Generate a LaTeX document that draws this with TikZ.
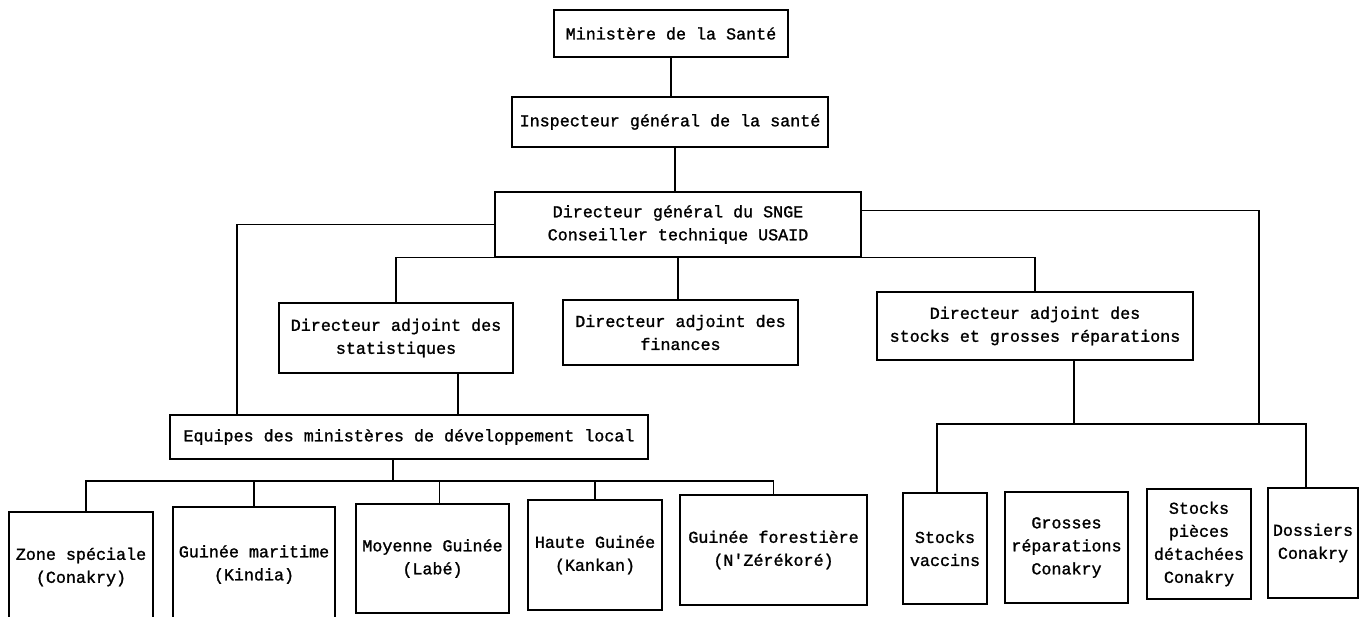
\documentclass[tikz,border=0pt]{standalone}
\usepackage{fontspec}
\newfontfamily\tw[AutoFakeBold=1.3]{Liberation Mono}
\begin{document}
\begin{tikzpicture}[x=1pt,y=-1pt,
  box/.style={draw,line width=1.5pt,inner sep=0pt,align=center,
    font=\tw\bfseries\fontsize{16.7}{23}\selectfont},
  conn/.style={line width=1.5pt}]
\useasboundingbox (0,0) rectangle (1365,617);
\clip (0,0) rectangle (1365,617);
% top levels
\node[box,minimum width=234pt,minimum height=47pt] (min) at (671,33.5) {Ministère de la Santé};
\node[box,minimum width=316pt,minimum height=50pt] (insp) at (670,122) {Inspecteur général de la santé};
\node[box,minimum width=366pt,minimum height=65pt] (dg) at (678,224.5) {Directeur général du SNGE\\Conseiller technique USAID};
\node[box,minimum width=234pt,minimum height=70pt] (stat) at (396,338) {Directeur adjoint des\\statistiques};
\node[box,minimum width=235pt,minimum height=65pt] (fin) at (680.5,332.5) {Directeur adjoint des\\finances};
\node[box,minimum width=316pt,minimum height=68pt] (stk) at (1035,326) {Directeur adjoint des\\stocks et grosses réparations};
\node[box,minimum width=478pt,minimum height=44pt] (eq) at (409,437) {Equipes des ministères de développement local};
% regions
\node[box,minimum width=144pt,minimum height=110pt] (zone) at (81,567) {Zone spéciale\\(Conakry)};
\node[box,minimum width=162pt,minimum height=115pt] (mar) at (254,564.5) {Guinée maritime\\(Kindia)};
\node[box,minimum width=153pt,minimum height=109pt] (moy) at (432.5,558.5) {Moyenne Guinée\\(Labé)};
\node[box,minimum width=134pt,minimum height=110pt] (hau) at (595,555) {Haute Guinée\\(Kankan)};
\node[box,minimum width=187pt,minimum height=110pt] (for) at (773.5,550) {Guinée forestière\\(N'Zérékoré)};
% stocks
\node[box,minimum width=84pt,minimum height=111pt] (vac) at (945,548.5) {Stocks\\vaccins};
\node[box,minimum width=123pt,minimum height=111pt] (gro) at (1066.5,547.5) {Grosses\\réparations\\Conakry};
\node[box,minimum width=104pt,minimum height=110pt] (pie) at (1199,544) {Stocks\\pièces\\détachées\\Conakry};
\node[box,minimum width=90pt,minimum height=110pt] (dos) at (1313,543) {Dossiers\\Conakry};
% coordinates
\coordinate (lbar) at (393,481);
\coordinate (barL) at (937,424);
\coordinate (barR) at (1306,424);
\coordinate (rk) at (1259,424);
\coordinate (eqk) at (237,415);
% connectors
\draw[conn] (min.south) -- (min.south |- insp.north);
\draw[conn] ([xshift=5pt]insp.south) -- ([xshift=5pt]insp.south |- dg.north);
\draw[conn] (dg.south) -- (dg.south |- fin.north);
\draw[conn] (stat.north) |- (dg.south) -| (stk.north);
\draw[conn] (dg.west) -| (eqk);
\draw[conn] ([yshift=14pt]dg.east) -| (rk);
\draw[conn] ([xshift=62pt]stat.south) -- ([xshift=62pt]stat.south |- eq.north);
\draw[conn] ([xshift=-16pt]eq.south) -- (lbar);
\draw[conn] ([xshift=5pt]zone.north) |- (for.north |- lbar) -- (for.north);
\draw[conn] (mar.north) -- (mar.north |- lbar);
\draw[conn] ([xshift=7pt]moy.north) -- ([xshift=7pt]moy.north |- lbar);
\draw[conn] (hau.north) -- (hau.north |- lbar);
\draw[conn] ([xshift=39pt]stk.south) -- ([xshift=39pt]stk.south |- barL);
\draw[conn] (barL |- vac.north) -- (barL) -- (barR) -- (barR |- dos.north);
\end{tikzpicture}
\end{document}
